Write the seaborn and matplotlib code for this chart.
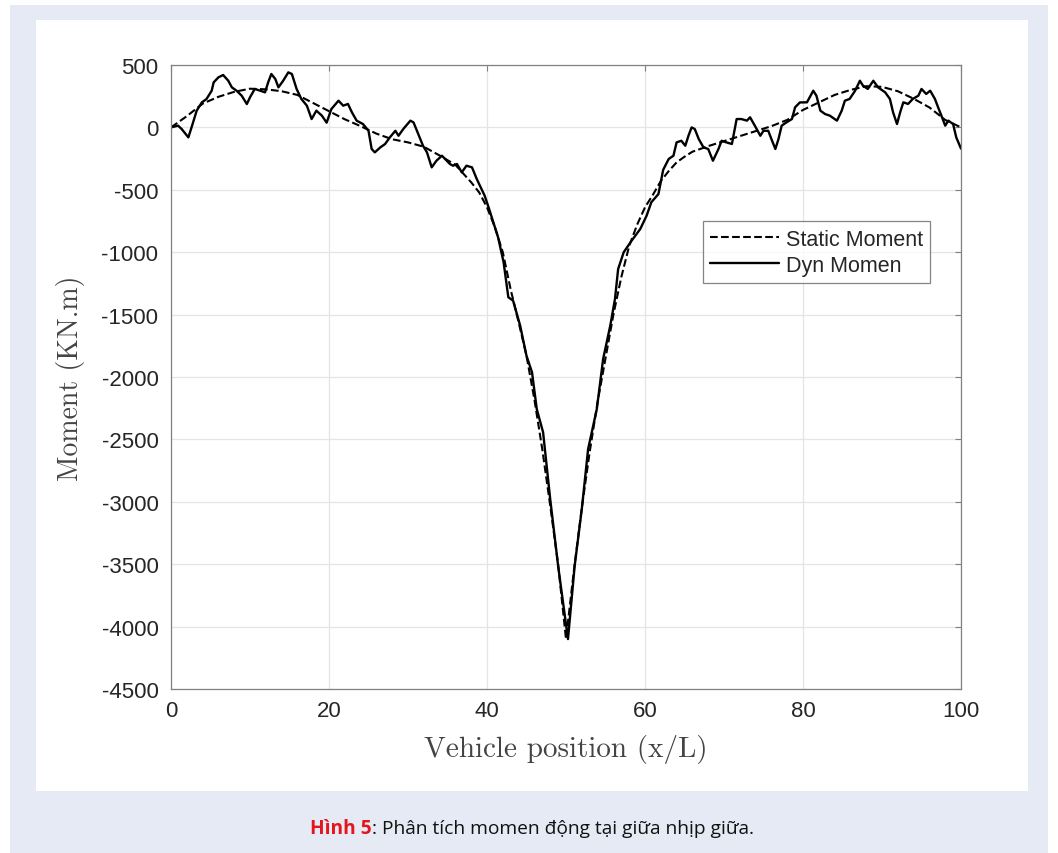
import numpy as np
import pandas as pd
import matplotlib
matplotlib.use('Agg')
import matplotlib.pyplot as plt
import seaborn as sns
from matplotlib.patches import Rectangle

# static moment (dashed)
static_x = [0, 2, 4, 6, 8, 10, 12, 14, 16, 18, 20, 22, 24, 26, 28, 30, 32, 34, 36, 38,
            39, 40, 41, 42, 43, 44, 45, 46, 47, 48, 49, 50, 51, 52, 53, 54, 55, 56, 57, 58,
            59, 60, 61, 62, 63, 64, 65, 66, 68, 70, 72, 74, 76, 78, 80, 82, 84, 86, 88, 90,
            92, 94, 96, 98, 100]
static_y = [0, 90, 190, 245, 285, 310, 305, 290, 260, 195, 130, 65, 10, -50, -95, -120, -155, -225, -300, -440,
            -520, -640, -800, -1000, -1300, -1560, -1830, -2180, -2580, -3030, -3500, -4100, -3550, -3050, -2600, -2200, -1850, -1500, -1200, -950,
            -780, -640, -540, -430, -350, -280, -235, -195, -150, -110, -70, -30, 10, 60, 140, 200, 260, 300, 330, 325,
            290, 230, 160, 60, 0]

# dynamic moment (solid)
dyn_x = [0, 0.9, 1.35, 2.2, 2.6, 3.25, 3.9, 4.5, 5.15, 5.4,
         6.0, 6.6, 7.25, 7.7, 8.3, 8.95, 9.6, 10.0, 10.6, 11.3,
         11.9, 12.3, 12.7, 13.2, 13.6, 14.2, 14.85, 15.3, 15.9, 16.5,
         17.2, 17.8, 18.4, 19.1, 19.7, 20.3, 21.2, 21.8, 22.4, 22.9,
         23.5, 24.3, 25.0, 25.4, 25.8, 26.5, 27.1, 27.7, 28.4, 28.8,
         29.4, 30.3, 30.7, 31.3, 31.9, 32.4, 33.0, 33.6, 34.3, 34.9,
         35.3, 35.7, 36.2, 36.8, 37.4, 38.1, 38.7, 39.3, 39.7, 40.2,
         40.8, 41.4, 42.1, 42.5, 42.7, 43.3, 44.2, 45.0, 45.7, 46.3,
         47.1, 48.0, 49.0, 50.25, 51.1, 52.0, 52.8, 53.9, 54.7, 55.6,
         56.2, 56.6, 57.3, 58.3, 59.4, 60.2, 60.8, 61.7, 62.3, 63.0,
         63.6, 64.0, 64.6, 65.1, 65.5, 65.9, 66.3, 66.8, 67.4, 68.0,
         68.6, 69.3, 69.7, 70.3, 71.0, 71.6, 72.2, 72.9, 73.3, 73.9,
         74.6, 75.0, 75.6, 76.0, 76.5, 76.9, 77.3, 77.9, 78.6, 79.0,
         79.6, 80.5, 81.3, 81.7, 82.2, 82.8, 83.4, 84.3, 84.9, 85.3,
         85.9, 86.6, 87.2, 87.6, 88.2, 88.9, 89.5, 90.4, 91.0, 91.4,
         91.9, 92.3, 92.7, 93.3, 93.9, 94.6, 95.0, 95.6, 96.1, 96.7,
         97.1, 97.6, 98.0, 98.4, 99.0, 99.4, 100]
dyn_y = [0, 14, -13, -80, 0, 134, 200, 228, 294, 361,
         401, 420, 374, 321, 294, 254, 187, 241, 308, 294,
         281, 361, 428, 388, 321, 374, 441, 428, 308, 228,
         174, 67, 134, 94, 38, 147, 214, 174, 188, 121,
         54, 27, -27, -173, -200, -160, -133, -80, -27, -67,
         -13, 54, 40, -53, -147, -200, -320, -267, -227, -267,
         -293, -307, -293, -360, -307, -320, -413, -493, -547, -640,
         -760, -880, -1080, -1268, -1361, -1388, -1589, -1830, -1963, -2257,
         -2443, -2978, -3512, -4100, -3512, -3058, -2577, -2257, -1856, -1589,
         -1375, -1135, -1001, -908, -814, -708, -600, -534, -340, -253,
         -227, -120, -107, -147, -67, 0, -13, -93, -160, -173,
         -267, -173, -107, -120, -133, 67, 67, 54, 81, 14,
         -67, -27, -27, -93, -173, -93, 14, 40, 67, 161,
         200, 201, 294, 254, 134, 107, 94, 54, 134, 214,
         228, 294, 374, 334, 308, 374, 321, 281, 228, 121,
         27, 121, 201, 188, 228, 254, 308, 268, 294, 228,
         161, 81, 14, 54, 27, -80, -170]

x_ticks = list(range(0, 101, 20))
y_ticks = list(range(-4500, 501, 500))

sns.set_style('white')
plt.rcParams['axes.unicode_minus'] = False
plt.rcParams['font.family'] = ['Liberation Sans', 'DejaVu Sans']

fig = plt.figure(figsize=(10.58, 8.54), dpi=100)
W, H = 1058, 854
# lavender frame and white panel
fig.patches.append(Rectangle((10 / W, 0), 1038 / W, 848 / H, transform=fig.transFigure,
                             facecolor='#e6eaf5', edgecolor='none', zorder=-2))
fig.patches.append(Rectangle((36 / W, 1 - 792 / H), 992 / W, 771 / H, transform=fig.transFigure,
                             facecolor='white', edgecolor='none', zorder=-1))

ax = fig.add_axes([171 / W, 1 - 690 / H, 790 / W, 624 / H])

sns.lineplot(x=static_x, y=static_y, ax=ax, color='black', linestyle='--', lw=1.5,
             label='Static Moment', sort=False, estimator=None)
sns.lineplot(x=dyn_x, y=dyn_y, ax=ax, color='black', lw=1.7,
             label='Dyn Momen', sort=False, estimator=None)

ax.set_xlim(0, 100)
ax.set_ylim(-4500, 500)
ax.set_xticks(x_ticks)
ax.set_yticks(y_ticks)
ax.grid(True, color='#e4e4e4', lw=0.9)
ax.set_axisbelow(True)
for s in ax.spines.values():
    s.set_color('#808080')
    s.set_linewidth(0.9)
ax.tick_params(direction='in', length=4, width=0.8, color='#808080', top=True, right=True,
               labelsize=16, labelcolor='#262626')
ax.tick_params(axis='y', pad=9)
ax.tick_params(axis='x', pad=8)

ax.set_xlabel('Vehicle position (x/L)', fontfamily='cmr10', fontsize=21, color='#444444', labelpad=9)
ax.set_ylabel('Moment (KN.m)', fontfamily='cmr10', fontsize=20, color='#444444', labelpad=12)

leg = ax.legend(loc='upper right', bbox_to_anchor=(0.961, 0.75), fontsize=15.5, frameon=True,
                fancybox=False, edgecolor='#666666', handlelength=3.2, borderpad=0.35,
                labelspacing=0.25, handletextpad=0.3, borderaxespad=0)
leg.get_frame().set_linewidth(0.9)
for t in leg.get_texts():
    t.set_color('#262626')

# caption
fig.text(372 / W, 1 - 829 / H, 'Hình 5', ha='right', va='center', fontsize=13.8,
         fontweight='bold', color='#e3161d', family=['Open Sans', 'DejaVu Sans'])
fig.text(372 / W, 1 - 829 / H, ': Phân tích momen động tại giữa nhịp giữa.', ha='left', va='center',
         fontsize=13.8, color='#111111', family=['Open Sans', 'DejaVu Sans'])

fig.savefig('out.png', dpi=100)
